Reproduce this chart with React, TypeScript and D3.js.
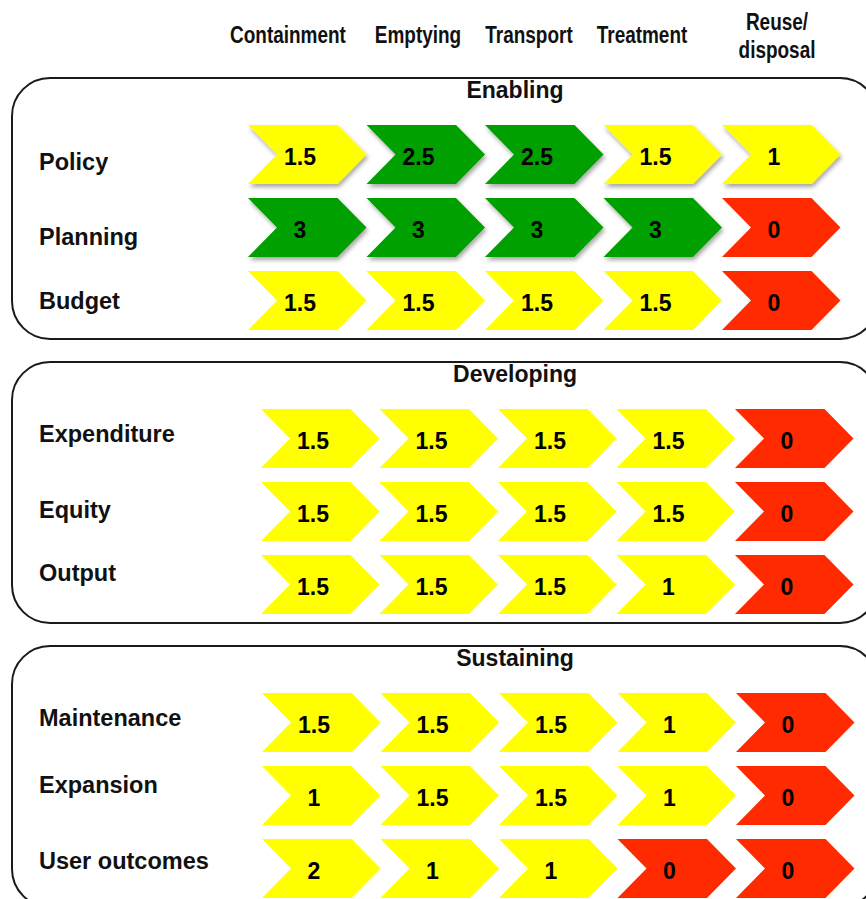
import React, { useRef, useEffect } from 'react';
import * as d3 from 'd3';

const stages = ['Containment', 'Emptying', 'Transport', 'Treatment', 'Reuse/disposal'];

const sections = ['Enabling', 'Developing', 'Sustaining'];

const enablingRows = ['Policy', 'Planning', 'Budget'];
const enablingScores = [
  [1.5, 2.5, 2.5, 1.5, 1],
  [3, 3, 3, 3, 0],
  [1.5, 1.5, 1.5, 1.5, 0]
];

const developingRows = ['Expenditure', 'Equity', 'Output'];
const developingScores = [
  [1.5, 1.5, 1.5, 1.5, 0],
  [1.5, 1.5, 1.5, 1.5, 0],
  [1.5, 1.5, 1.5, 1, 0]
];

const sustainingRows = ['Maintenance', 'Expansion', 'User outcomes'];
const sustainingScores = [
  [1.5, 1.5, 1.5, 1, 0],
  [1, 1.5, 1.5, 1, 0],
  [2, 1, 1, 0, 0]
];

const width = 866;
const height = 899;

// layout only
const panelTop = [78, 362, 646];
const colStart = [248, 261, 262];
const headerX = [288, 418, 529, 642, 777];
const labelShift = [
  [7, 9, 0],
  [-5, -2, -12],
  [-5, -11, -8]
];

const App: React.FC = () => {
  const ref = useRef<SVGSVGElement | null>(null);

  useEffect(() => {
    document.body.style.margin = '0';
    if (!ref.current) return;
    const svg = d3.select(ref.current);
    svg.selectAll('*').remove();

    const font = 'Liberation Sans, Arial, sans-serif';

    const defs = svg.append('defs');
    const f = defs
      .append('filter')
      .attr('id', 'shadow')
      .attr('x', '-10%')
      .attr('y', '-10%')
      .attr('width', '130%')
      .attr('height', '140%');
    f.append('feDropShadow')
      .attr('dx', 1.5)
      .attr('dy', 3)
      .attr('stdDeviation', 2)
      .attr('flood-color', '#000')
      .attr('flood-opacity', 0.35);

    const color = d3
      .scaleThreshold<number, string>()
      .domain([0.5, 2.25])
      .range(['#ff2a00', '#ffff00', '#00a000']);

    // column headers (condensed look)
    const header = svg
      .append('g')
      .attr('font-family', font)
      .attr('font-weight', 'bold')
      .attr('font-size', 24)
      .attr('fill', '#111');
    stages.forEach((s, i) => {
      const parts = s.split('/');
      const lines = parts.length > 1 ? [parts[0] + '/', parts[1]] : [s];
      const ys = parts.length > 1 ? [30, 58] : [43];
      lines.forEach((l, li) => {
        header
          .append('text')
          .attr('transform', `translate(${headerX[i]},${ys[li]}) scale(0.79,1)`)
          .attr('text-anchor', 'middle')
          .text(l);
      });
    });

    const rowsBySection = [enablingRows, developingRows, sustainingRows];
    const scoresBySection = [enablingScores, developingScores, sustainingScores];

    const chevH = 59;
    const step = 118.5;
    const notch = 29;
    const rowStep = 73;
    const chevron = d3.line<[number, number]>();
    const pts: [number, number][] = [
      [0, 0],
      [step - notch, 0],
      [step, chevH / 2],
      [step - notch, chevH],
      [0, chevH],
      [notch, chevH / 2],
      [0, 0]
    ];

    sections.forEach((sec, si) => {
      const top = panelTop[si];
      const g = svg.append('g');

      g.append('rect')
        .attr('x', 12)
        .attr('y', top)
        .attr('width', 866)
        .attr('height', 261)
        .attr('rx', 38)
        .attr('fill', 'none')
        .attr('stroke', '#1a1a1a')
        .attr('stroke-width', 2);

      g.append('text')
        .attr('x', 515)
        .attr('y', top + 20)
        .attr('text-anchor', 'middle')
        .attr('font-family', font)
        .attr('font-weight', 'bold')
        .attr('font-size', 23)
        .attr('fill', '#111')
        .text(sec);

      const rows = rowsBySection[si];
      const x = d3
        .scaleBand<string>()
        .domain(stages)
        .range([colStart[si], colStart[si] + step * stages.length]);
      const y = d3
        .scaleBand<string>()
        .domain(rows)
        .range([top + 47, top + 47 + rowStep * rows.length - (rowStep - chevH)])
        .paddingInner((rowStep - chevH) / rowStep);

      rows.forEach((r, ri) => {
        const yy = y(r)!;
        g.append('text')
          .attr('x', 39)
          .attr('y', yy + chevH / 2 + labelShift[si][ri])
          .attr('dy', '0.35em')
          .attr('font-family', font)
          .attr('font-weight', 'bold')
          .attr('font-size', 23.5)
          .attr('fill', '#111')
          .text(r);

        scoresBySection[si][ri].forEach((v, ci) => {
          const xx = x(stages[ci])!;
          const cg = g.append('g').attr('transform', `translate(${xx},${yy})`);
          cg.append('path')
            .attr('d', chevron(pts))
            .attr('fill', color(v))
            .attr('filter', si === 0 && ri < 2 && v > 0 ? 'url(#shadow)' : null);
          cg.append('text')
            .attr('x', 52)
            .attr('y', chevH / 2 + 2)
            .attr('dy', '0.35em')
            .attr('text-anchor', 'middle')
            .attr('font-family', font)
            .attr('font-weight', 'bold')
            .attr('font-size', 23)
            .attr('fill', '#000')
            .text(String(v));
        });
      });
    });
  }, []);

  return <svg ref={ref} width={width} height={height} style={{ display: 'block' }} />;
};

export default App;
